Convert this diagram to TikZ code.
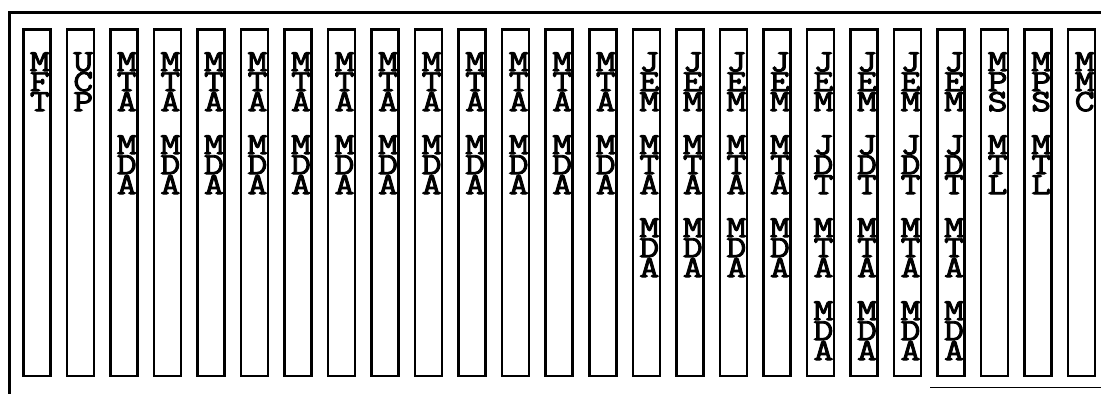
\documentclass[tikz,border=0pt]{standalone}
\usepackage{fontspec}
\newfontfamily\colfont{Latin Modern Mono}[FakeBold=3, FakeStretch=1.25]
\usetikzlibrary{positioning}
\newcommand\stackword[3]{#1\\#2\\#3}
\begin{document}
\begin{tikzpicture}[x=0.025cm, y=-0.025cm,
    column/.style={draw, line width=1.8pt, inner sep=0pt, minimum width=0.675cm, minimum height=8.66cm},
    word/.style={font=\colfont\fontsize{22}{14.2}\selectfont, align=center, inner sep=0pt, anchor=north}]
    \useasboundingbox (0,0) rectangle (1101,394);

    % Rahmen (oben, links, Rest unten rechts)
    \draw[line width=1.5pt] (9.5,394) -- (9.5,12.5) -- (1101,12.5);
    \draw[line width=0.6pt] (930,387) -- (1101,387);

    % Spalten mit senkrecht gestapelten Kuerzeln
    \foreach \i/\groups in {1/{MFT}, 2/{UCP},
        3/{MTA,MDA}, 4/{MTA,MDA}, 5/{MTA,MDA}, 6/{MTA,MDA}, 7/{MTA,MDA}, 8/{MTA,MDA},
        9/{MTA,MDA}, 10/{MTA,MDA}, 11/{MTA,MDA}, 12/{MTA,MDA}, 13/{MTA,MDA}, 14/{MTA,MDA},
        15/{JEM,MTA,MDA}, 16/{JEM,MTA,MDA}, 17/{JEM,MTA,MDA}, 18/{JEM,MTA,MDA},
        19/{JEM,JDT,MTA,MDA}, 20/{JEM,JDT,MTA,MDA}, 21/{JEM,JDT,MTA,MDA}, 22/{JEM,JDT,MTA,MDA},
        23/{MPS,MTL}, 24/{MPS,MTL}, 25/{MMC}} {
        \node[column] (col\i) at ({36.75+43.54*(\i-1)}, 202.75) {};
        \foreach \g [count=\k] in \groups
            \node[word] (w\i-\k) at ({39.75+43.54*(\i-1)}, {52+83*(\k-1)}) {\expandafter\stackword\g};
    }
\end{tikzpicture}
\end{document}
